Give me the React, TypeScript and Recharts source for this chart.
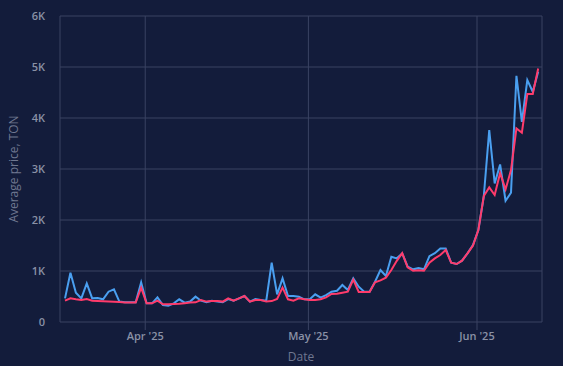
import { CartesianGrid, Line, LineChart, XAxis, YAxis } from "recharts";

// daily points, first one on 17 Mar 2025
const firstDay = Date.UTC(2025, 2, 17, 6);
const dayMs = 24 * 60 * 60 * 1000;

const avgPrice = [
  464, 966, 574, 464, 758, 464, 470, 445, 594, 640, 400, 386, 386, 386, 778, 366, 366, 484, 333, 320,
  366, 445, 380, 400, 497, 418, 386, 418, 400, 386, 450, 418, 464, 510, 400, 450, 431, 418, 1162, 542,
  856, 510, 510, 497, 445, 445, 542, 476, 529, 594, 613, 725, 627, 856, 692, 594, 594, 790, 1019, 902,
  1280, 1248, 1346, 1085, 1033, 1060, 1033, 1290, 1350, 1440, 1440, 1162, 1137, 1202, 1346, 1509, 1803, 2470, 3763, 2718,
  3090, 2378, 2535, 4828, 3926, 4743, 4515, 4906,
];

const medianPrice = [
  418, 464, 445, 431, 450, 418, 412, 405, 400, 395, 390, 380, 380, 380, 673, 366, 366, 418, 346, 346,
  355, 360, 370, 380, 386, 431, 400, 410, 410, 400, 464, 418, 464, 510, 400, 431, 431, 400, 410, 450,
  673, 445, 418, 464, 445, 431, 431, 445, 484, 549, 555, 575, 594, 830, 590, 590, 590, 778, 815, 870,
  1020, 1200, 1350, 1070, 1006, 1015, 1006, 1162, 1248, 1313, 1411, 1162, 1137, 1202, 1346, 1496, 1803, 2470, 2640, 2490,
  2920, 2600, 2980, 3796, 3711, 4469, 4469, 4972,
];

const monthTicks = ["2025-04-01", "2025-05-01", "2025-06-01"];
const monthLabels = ["Apr '25", "May '25", "Jun '25"];
const priceTicks = [0, 1000, 2000, 3000, 4000, 5000, 6000];

const data = avgPrice.map((avg, i) => ({
  t: firstDay + i * dayMs,
  avg,
  median: medianPrice[i],
}));

const xTicks = monthTicks.map((d) => Date.parse(d + "T00:00:00Z"));

const bg = "#131c3b";
const grid = "#3a4363";
const tickColor = "#8a91a6";

export default function App() {
  return (
    <div style={{ width: 563, height: 366, background: bg }}>
      <style>{`body{margin:0;background:${bg}}`}</style>
      <LineChart width={563} height={366} data={data} margin={{ top: 16, right: 21, bottom: 0, left: 0 }}>
        <CartesianGrid stroke={grid} strokeWidth={1} />
        <XAxis
          dataKey="t"
          type="number"
          scale="time"
          domain={[firstDay - 0.92 * dayMs, firstDay + 87.7 * dayMs]}
          ticks={xTicks}
          tickFormatter={(v: number) => monthLabels[xTicks.indexOf(v)] ?? ""}
          height={44}
          axisLine={false}
          tickLine={{ stroke: grid }}
          tickSize={8}
          tickMargin={2}
          tick={{ fontSize: 11, fontWeight: 600, fill: tickColor, fontFamily: "Open Sans" }}
          label={{
            value: "Date",
            position: "insideBottom",
            offset: 5,
            style: { fontSize: 12, fill: "#6f7790", fontFamily: "Open Sans" },
          }}
        />
        <YAxis
          domain={[0, 6000]}
          ticks={priceTicks}
          tickFormatter={(v: number) => (v === 0 ? "0" : `${v / 1000}K`)}
          width={60}
          axisLine={false}
          tickLine={false}
          tickMargin={9}
          tick={{ fontSize: 11, fontWeight: 600, fill: tickColor, fontFamily: "Open Sans" }}
          label={{
            value: "Average price, TON",
            angle: -90,
            position: "insideLeft",
            offset: 14,
            style: { fontSize: 12, fill: "#6f7790", fontFamily: "Open Sans", textAnchor: "middle" },
          }}
        />
        <Line dataKey="avg" stroke="#4a9ff0" strokeWidth={2} dot={false} isAnimationActive={false} />
        <Line dataKey="median" stroke="#ff3b6b" strokeWidth={2} dot={false} isAnimationActive={false} />
      </LineChart>
    </div>
  );
}
